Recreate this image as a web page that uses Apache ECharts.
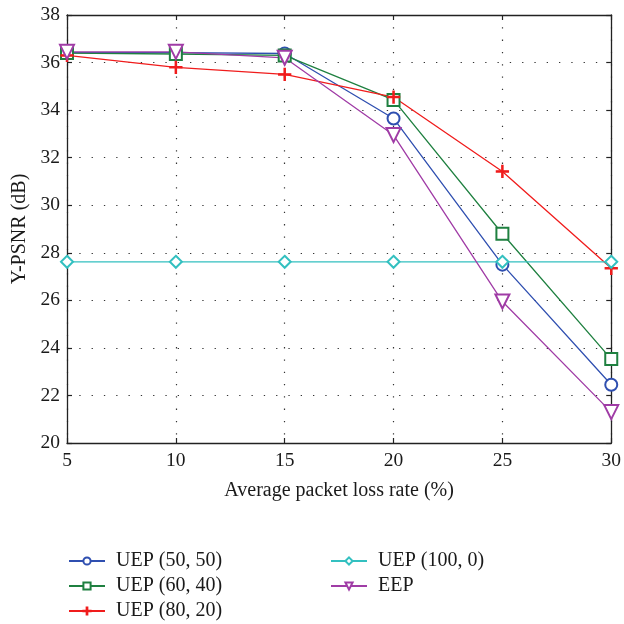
<!DOCTYPE html>
<html>
<head>
<meta charset="utf-8">
<script src="https://cdn.jsdelivr.net/npm/echarts@6/dist/echarts.min.js"></script>
<style>
  html, body { margin: 0; padding: 0; background: #fff; }
  #chart { width: 624px; height: 624px; }
</style>
</head>
<body>
<div id="chart"></div>
<script>
// Packet loss rates (%)
const lossRates = [5, 10, 15, 20, 25, 30];

// Y-PSNR (dB) for each protection scheme
const uep5050 = [36.42, 36.42, 36.38, 33.65, 27.5, 22.45];
const uep6040 = [36.4, 36.36, 36.3, 34.43, 28.8, 23.53];
const uep8020 = [36.3, 35.8, 35.5, 34.55, 31.42, 27.35];
const uep1000 = [27.62, 27.62, 27.62, 27.62, 27.62, 27.62];
const eep = [36.45, 36.45, 36.2, 32.95, 25.95, 21.3];

const seriesNames = ['UEP (50, 50)', 'UEP (60, 40)', 'UEP (80, 20)', 'UEP (100, 0)', 'EEP'];

const FONT = '"Liberation Serif", "DejaVu Serif", serif';
const TEXT = '#1a1a1a';
const plusPath = 'path://M-0.1,-1H0.1V-0.1H1V0.1H0.1V1H-0.1V0.1H-1V-0.1H-0.1Z';

function pairs(values) {
  return lossRates.map((x, i) => [x, values[i]]);
}

function lineSeries(name, values, color, symbol, size, extra) {
  return Object.assign({
    name: name,
    type: 'line',
    xAxisIndex: 0,
    yAxisIndex: 0,
    data: pairs(values),
    symbol: symbol,
    symbolSize: size,
    showAllSymbol: true,
    lineStyle: { color: color, width: 1.3 },
    itemStyle: { color: color, borderColor: color, borderWidth: 1.3 },
    emphasis: { disabled: true },
    animation: false,
    z: 3
  }, extra || {});
}

// One legend block per entry, laid out in two columns
const legendSlots = [
  [63, 546], [63, 571], [63, 596],
  [325, 546], [325, 571]
];
const legends = seriesNames.map((name, i) => ({
  data: [name],
  left: legendSlots[i][0],
  top: legendSlots[i][1],
  itemWidth: 36,
  itemHeight: 9,
  itemGap: 0,
  textStyle: { fontFamily: FONT, fontSize: 20, color: TEXT, padding: [0, 0, 0, 6] },
  selectedMode: false
}));

const chart = echarts.init(document.getElementById('chart'), null, { renderer: 'canvas' });

const axisCommon = {
  type: 'value',
  axisLine: { show: true, onZero: false, lineStyle: { color: '#222', width: 1.3 } },
  axisTick: { show: true, inside: true, length: 5, lineStyle: { color: '#222', width: 1.2 } },
};

chart.setOption({
  backgroundColor: '#fff',
  animation: false,
  grid: { left: 67, right: 12, top: 15, bottom: 181, containLabel: false },
  xAxis: [
    Object.assign({}, axisCommon, {
      min: 5, max: 30, interval: 5,
      position: 'bottom',
      name: 'Average packet loss rate (%)',
      nameLocation: 'middle',
      nameGap: 38,
      nameTextStyle: { fontFamily: FONT, fontSize: 20, color: TEXT },
      axisLabel: { fontFamily: FONT, fontSize: 19.5, color: TEXT, margin: 8 },
      splitLine: { show: true, lineStyle: { color: '#333', width: 1.2, type: [1.3, 11] } }
    }),
    Object.assign({}, axisCommon, {
      min: 5, max: 30, interval: 5,
      position: 'top',
      axisLabel: { show: false },
      splitLine: { show: false }
    })
  ],
  yAxis: [
    Object.assign({}, axisCommon, {
      min: 20, max: 38, interval: 2,
      position: 'left',
      name: 'Y-PSNR (dB)',
      nameLocation: 'middle',
      nameGap: 37,
      nameRotate: 90,
      nameTextStyle: { fontFamily: FONT, fontSize: 20, color: TEXT },
      axisLabel: { fontFamily: FONT, fontSize: 19.5, color: TEXT, margin: 7 },
      splitLine: { show: true, lineStyle: { color: '#333', width: 1.2, type: [1.3, 11] } }
    }),
    Object.assign({}, axisCommon, {
      min: 20, max: 38, interval: 2,
      position: 'right',
      axisLabel: { show: false },
      splitLine: { show: false }
    })
  ],
  legend: legends,
  series: [
    lineSeries(seriesNames[0], uep5050, '#2f4fb0', 'emptyCircle', 12),
    lineSeries(seriesNames[1], uep6040, '#1f8040', 'emptyRect', 12),
    lineSeries(seriesNames[2], uep8020, '#f01c1c', plusPath, 12),
    lineSeries(seriesNames[3], uep1000, '#33c0c0', 'emptyDiamond', 12),
    lineSeries(seriesNames[4], eep, '#a03ca6', 'emptyTriangle', 14, { symbolRotate: 180 })
  ]
});
</script>
</body>
</html>
